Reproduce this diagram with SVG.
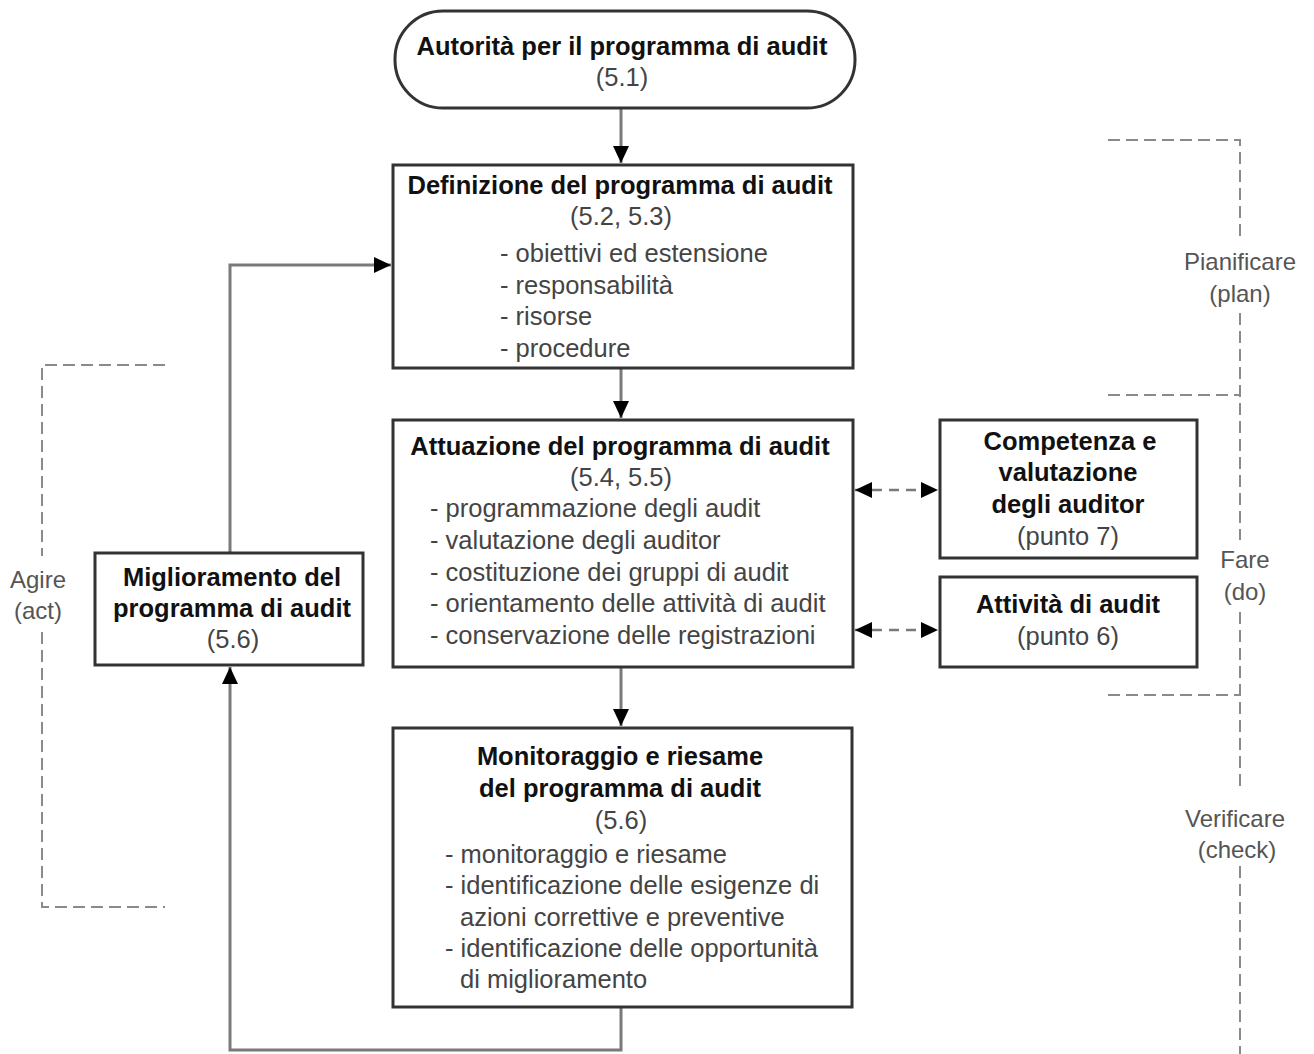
<svg xmlns="http://www.w3.org/2000/svg" width="1314" height="1054" viewBox="0 0 1314 1054">
<style>
.box{fill:#fff;stroke:#333;stroke-width:3}
.t{font-family:"Liberation Sans",Arial,sans-serif;font-size:25.5px;fill:#222}
.b{font-weight:bold;fill:#111}
.m{text-anchor:middle}
.g{fill:#444}
.lab{font-family:"Liberation Sans",Arial,sans-serif;font-size:24px;fill:#555;text-anchor:middle}
.conn{fill:none;stroke:#7a7a7a;stroke-width:3}
.dconn{fill:none;stroke:#7a7a7a;stroke-width:2.5;stroke-dasharray:10 7}
.brk{fill:none;stroke:#8a8a8a;stroke-width:2;stroke-dasharray:12 6}
</style>
<defs>
<marker id="ah" markerUnits="userSpaceOnUse" markerWidth="18" markerHeight="18" refX="17" refY="9" orient="auto-start-reverse">
<path d="M0,1 L17,9 L0,17 Z" fill="#000"/>
</marker>
</defs>
<rect width="1314" height="1054" fill="#fff"/>

<g id="brackets">
<path class="brk" d="M165,365 H42 V556 M42,632 V907 H165"/>
<text class="lab" x="38" y="588">Agire</text>
<text class="lab" x="38" y="619">(act)</text>
<path class="brk" d="M1108,140 H1240 V240 M1240,313 V540 M1108,395 H1240 M1108,695 H1240 M1240,612 V790 M1240,866 V1054"/>
<text class="lab" x="1240" y="270">Pianificare</text>
<text class="lab" x="1240" y="302">(plan)</text>
<text class="lab" x="1245" y="568">Fare</text>
<text class="lab" x="1245" y="600">(do)</text>
<text class="lab" x="1235" y="827">Verificare</text>
<text class="lab" x="1237" y="858">(check)</text>
</g>

<g id="connectors">
<path class="conn" d="M621,108 V163" marker-end="url(#ah)"/>
<path class="conn" d="M621,368 V418" marker-end="url(#ah)"/>
<path class="conn" d="M621,667 V726" marker-end="url(#ah)"/>
<path class="conn" d="M621,1007 V1050 H230 V667" marker-end="url(#ah)"/>
<path class="conn" d="M230,553 V265 H391" marker-end="url(#ah)"/>
<path class="dconn" d="M855,490 H938" marker-start="url(#ah)" marker-end="url(#ah)"/>
<path class="dconn" d="M855,630 H938" marker-start="url(#ah)" marker-end="url(#ah)"/>
</g>

<g id="n-autorita">
<rect class="box" x="395" y="11" width="460" height="97" rx="48" ry="48"/>
<text class="t b m" x="622" y="55">Autorità per il programma di audit</text>
<text class="t g m" x="622" y="86">(5.1)</text>
</g>

<g id="n-definizione">
<rect class="box" x="393" y="165" width="460" height="203"/>
<text class="t b m" x="620" y="194">Definizione del programma di audit</text>
<text class="t g m" x="621" y="225">(5.2, 5.3)</text>
<text class="t g" x="500" y="262">- obiettivi ed estensione</text>
<text class="t g" x="500" y="294">- responsabilità</text>
<text class="t g" x="500" y="325">- risorse</text>
<text class="t g" x="500" y="357">- procedure</text>
</g>

<g id="n-attuazione">
<rect class="box" x="393" y="420" width="460" height="247"/>
<text class="t b m" x="620" y="455">Attuazione del programma di audit</text>
<text class="t g m" x="621" y="486">(5.4, 5.5)</text>
<text class="t g" x="430" y="517">- programmazione degli audit</text>
<text class="t g" x="430" y="549">- valutazione degli auditor</text>
<text class="t g" x="430" y="581">- costituzione dei gruppi di audit</text>
<text class="t g" x="430" y="612">- orientamento delle attività di audit</text>
<text class="t g" x="430" y="644">- conservazione delle registrazioni</text>
</g>

<g id="n-competenza">
<rect class="box" x="940" y="420" width="257" height="138"/>
<text class="t b m" x="1070" y="450">Competenza e</text>
<text class="t b m" x="1068" y="481">valutazione</text>
<text class="t b m" x="1068" y="513">degli auditor</text>
<text class="t g m" x="1068" y="545">(punto 7)</text>
</g>

<g id="n-attivita">
<rect class="box" x="940" y="577" width="257" height="90"/>
<text class="t b m" x="1068" y="613">Attività di audit</text>
<text class="t g m" x="1068" y="645">(punto 6)</text>
</g>

<g id="n-miglioramento">
<rect class="box" x="95" y="553" width="268" height="112"/>
<text class="t b m" x="232" y="586">Miglioramento del</text>
<text class="t b m" x="232" y="617">programma di audit</text>
<text class="t g m" x="233" y="648">(5.6)</text>
</g>

<g id="n-monitoraggio">
<rect class="box" x="393" y="728" width="459" height="279"/>
<text class="t b m" x="620" y="765">Monitoraggio e riesame</text>
<text class="t b m" x="620" y="797">del programma di audit</text>
<text class="t g m" x="621" y="829">(5.6)</text>
<text class="t g" x="445" y="863">- monitoraggio e riesame</text>
<text class="t g" x="445" y="894">- identificazione delle esigenze di</text>
<text class="t g" x="460" y="926">azioni correttive e preventive</text>
<text class="t g" x="445" y="957">- identificazione delle opportunità</text>
<text class="t g" x="460" y="988">di miglioramento</text>
</g>
</svg>
